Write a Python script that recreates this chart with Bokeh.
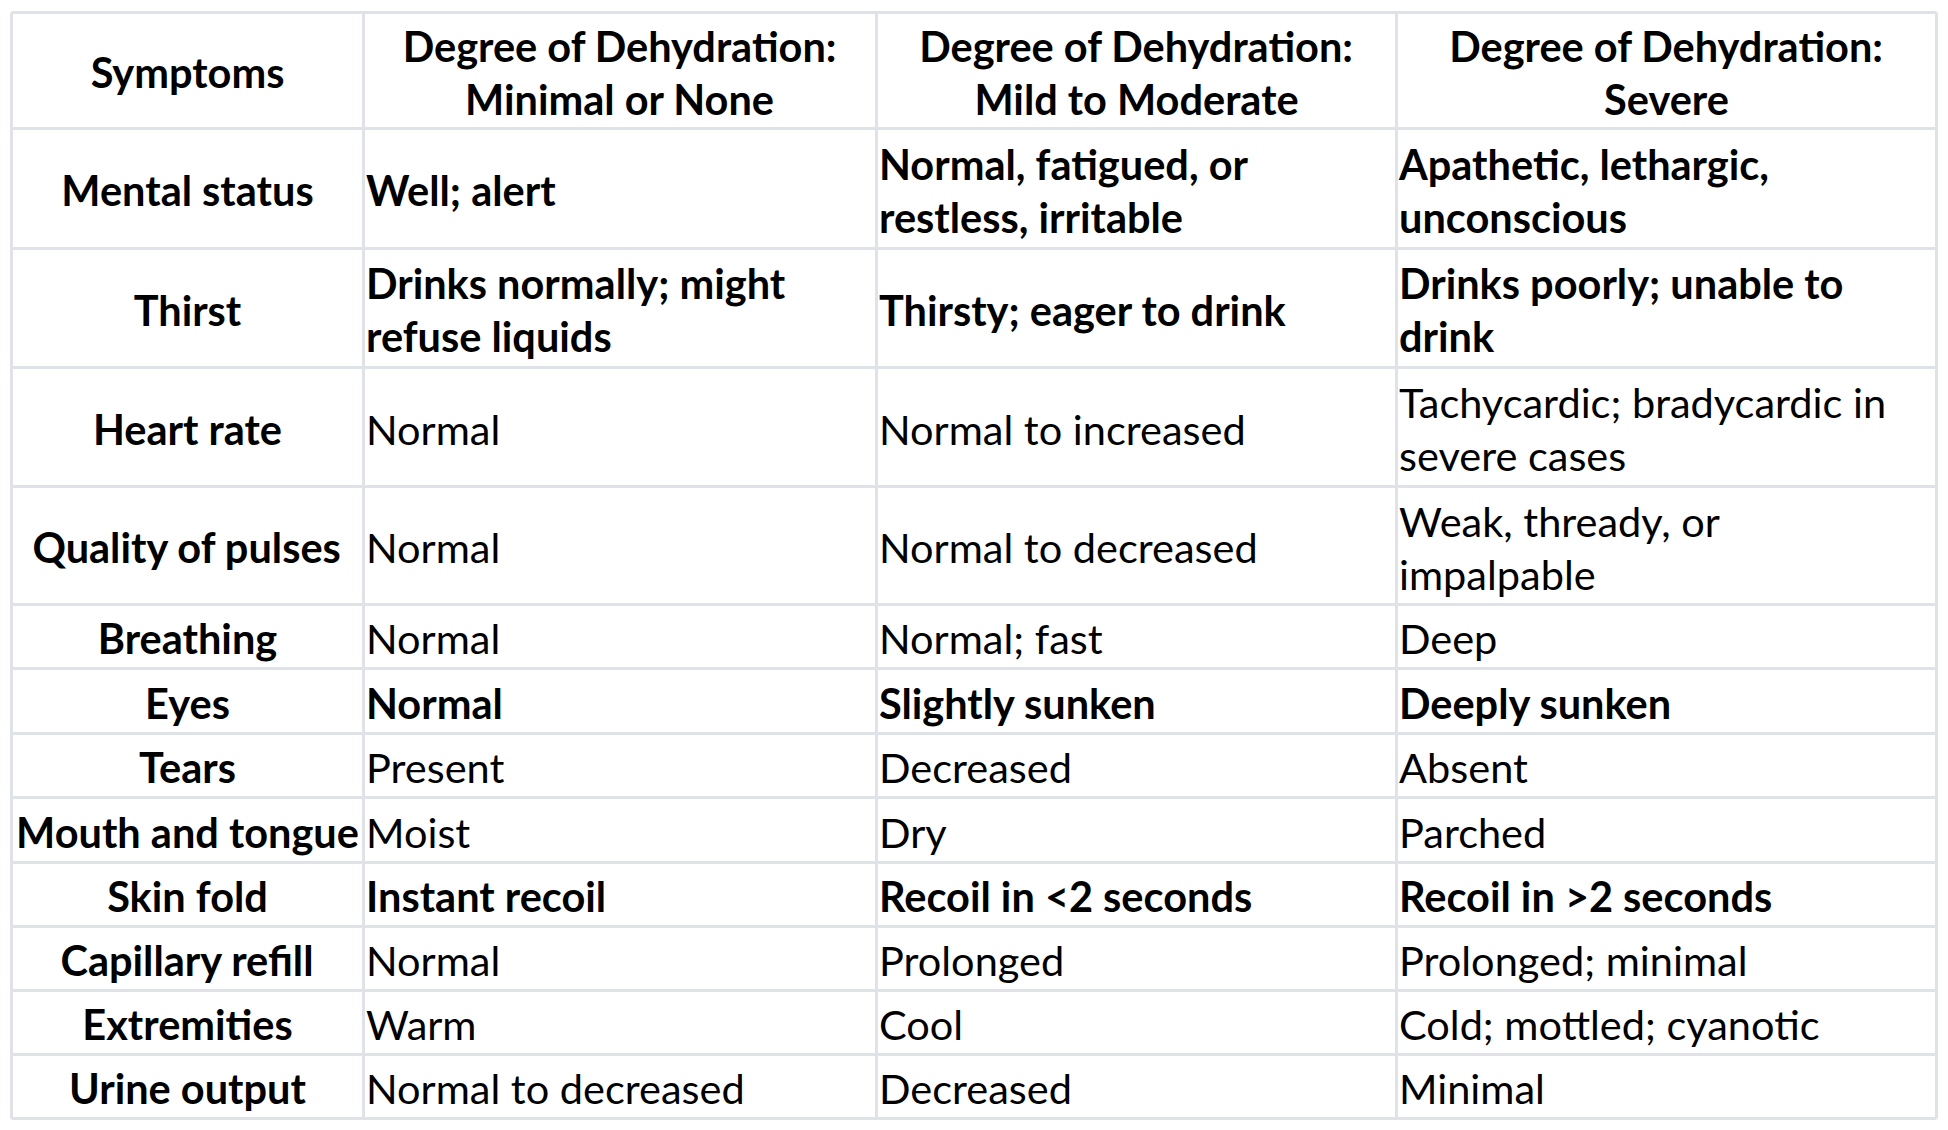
from bokeh.plotting import figure
from bokeh.models import ColumnDataSource, Range1d
from bokeh.core.properties import value
from bokeh.embed import file_html
from bokeh.resources import INLINE

# ---------------- data ----------------
headers = [
    "Symptoms",
    "Degree of Dehydration:\nMinimal or None",
    "Degree of Dehydration:\nMild to Moderate",
    "Degree of Dehydration:\nSevere",
]
symptoms = [
    "Mental status", "Thirst", "Heart rate", "Quality of pulses", "Breathing",
    "Eyes", "Tears", "Mouth and tongue", "Skin fold", "Capillary refill",
    "Extremities", "Urine output",
]
minimal = [
    "Well; alert", "Drinks normally; might\nrefuse liquids", "Normal", "Normal",
    "Normal", "Normal", "Present", "Moist", "Instant recoil", "Normal", "Warm",
    "Normal to decreased",
]
mild = [
    "Normal, fatigued, or\nrestless, irritable", "Thirsty; eager to drink",
    "Normal to increased", "Normal to decreased", "Normal; fast",
    "Slightly sunken", "Decreased", "Dry", "Recoil in <2 seconds", "Prolonged",
    "Cool", "Decreased",
]
severe = [
    "Apathetic, lethargic,\nunconscious", "Drinks poorly; unable to\ndrink",
    "Tachycardic; bradycardic in\nsevere cases", "Weak, thready, or\nimpalpable",
    "Deep", "Deeply sunken", "Absent", "Parched", "Recoil in >2 seconds",
    "Prolonged; minimal", "Cold; mottled; cyanotic", "Minimal",
]
bold_rows = [True, True, False, False, False, True, False, False, True,
             False, False, False]

# ---------------- layout ----------------
W, H = 1940, 1122
X0, Y0 = 11, 12
col_widths = [352, 513, 520, 540]
row_heights = [116, 120, 119, 119, 118, 64, 65, 64, 65, 64, 64, 64, 64]
FONT = "Lato"
FSIZE = "41.5px"
LINE_H = 53
PAD = 2.5
GRID_COLOR = "#dfe2e6"

col_edges = [X0]
for w in col_widths:
    col_edges.append(col_edges[-1] + w)
row_edges = [Y0]
for h in row_heights:
    row_edges.append(row_edges[-1] + h)

p = figure(width=W, height=H, output_backend="svg", toolbar_location=None,
           x_range=Range1d(0, W), y_range=Range1d(H, 0),
           x_axis_type=None, y_axis_type=None, min_border=0,
           background_fill_color="white", border_fill_color="white")
p.outline_line_color = None
p.xgrid.visible = False
p.ygrid.visible = False

# grid lines
hx0, hx1, hy = [], [], []
for y in row_edges:
    hx0.append(col_edges[0]); hx1.append(col_edges[-1]); hy.append(y)
p.segment(x0=hx0, y0=hy, x1=hx1, y1=hy, line_color=GRID_COLOR, line_width=3)
vx, vy0, vy1 = [], [], []
for x in col_edges:
    vx.append(x); vy0.append(row_edges[0]); vy1.append(row_edges[-1])
p.segment(x0=vx, y0=vy0, x1=vx, y1=vy1, line_color=GRID_COLOR, line_width=3)

# text cells
cells = {"bold": dict(x=[], y=[], text=[], align=[]),
         "normal": dict(x=[], y=[], text=[], align=[])}


def add_cell(txt, col, row, bold, center):
    mid = (row_edges[row] + row_edges[row + 1]) / 2 + 1.5
    lines = txt.split("\n")
    n = len(lines)
    if center:
        x = (col_edges[col] + col_edges[col + 1]) / 2
        al = "center"
    else:
        x = col_edges[col] + PAD
        al = "left"
    d = cells["bold" if bold else "normal"]
    for i, ln in enumerate(lines):
        d["x"].append(x)
        d["y"].append(mid + (i - (n - 1) / 2) * LINE_H)
        d["text"].append(ln)
        d["align"].append(al)


for c, h in enumerate(headers):
    add_cell(h, c, 0, True, True)
for r, s in enumerate(symptoms):
    add_cell(s, 0, r + 1, True, True)
    add_cell(minimal[r], 1, r + 1, bold_rows[r], False)
    add_cell(mild[r], 2, r + 1, bold_rows[r], False)
    add_cell(severe[r], 3, r + 1, bold_rows[r], False)

for style, d in cells.items():
    src = ColumnDataSource(d)
    p.text(x="x", y="y", text="text", source=src, text_align="align",
           text_baseline="middle", text_font=value(FONT),
           text_font_size=FSIZE, text_font_style=style, text_color="black")

open("out.html", "w").write(file_html(p, INLINE))
